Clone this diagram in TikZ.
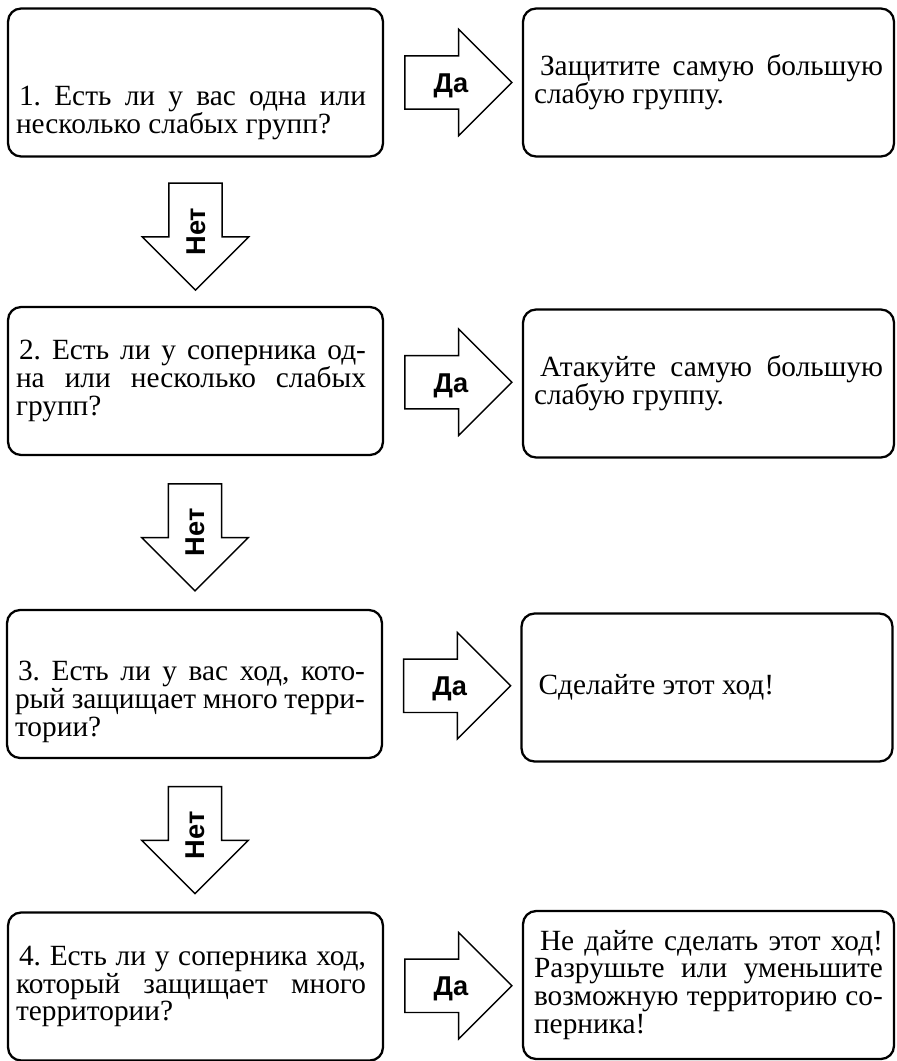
\documentclass[tikz,border=0pt]{standalone}
\usepackage{fontspec}
\setmainfont{Liberation Serif}
\newfontfamily\arrowfont{Liberation Sans}
\usetikzlibrary{shapes.arrows}
\usetikzlibrary{calc}
\frenchspacing

\begin{document}
\begin{tikzpicture}[x=0.02cm, y=-0.02cm,
				box/.style = {draw, line width=1.3pt, rounded corners=0.26cm,
					minimum width=7.5cm, minimum height=2.96cm,
					text width=7.18cm, align=justify, inner sep=0pt,
					execute at begin node={\rightskip=0.18cm},
					font=\fontsize{16.7}{15.9}\selectfont},
				answer/.style = {box, minimum width=7.42cm, text width=6.98cm,
					execute at begin node={\rightskip=0cm}},
				bigarrow/.style = {draw, line width=0.8pt, single arrow,
					single arrow head extend=0.53cm, minimum width=2.1cm,
					minimum height=2.14cm, inner sep=0pt,
					text height=0.715cm, text depth=0.325cm,
					font=\arrowfont\bfseries\fontsize{15.5}{16}\selectfont},
				yes/.style = {bigarrow, xshift=-0.16cm},
				no/.style = {bigarrow, yshift=0.17cm, rotate=90, shape border rotate=180}]
				
				\useasboundingbox (0,0) rectangle (896,1061);
				
				% Question 1
				\node[box] (q1) at (195.5,82.5) {\rule{0pt}{1.6cm}\hspace*{0.06cm}1. Есть ли у вас одна или\linebreak несколько слабых групп?};
				\node[answer] (a1) at (708.5,82.5) {\hspace*{0.12cm}Защитите самую большую\linebreak слабую группу.};
				
				% Question 2
				\node[box] (q2) at (195.5,381) {\hspace*{0.06cm}2. Есть ли у соперника од-\linebreak на или несколько слабых\linebreak групп?};
				\node[answer] (a2) at (708.5,383.5) {\hspace*{0.12cm}Атакуйте самую большую\linebreak слабую группу.};
				
				% Question 3
				\node[box] (q3) at (194.5,684) {\rule{0pt}{1.1cm}\hspace*{0.06cm}3. Есть ли у вас ход, кото-\linebreak рый защищает много терри-\linebreak тории?};
				\node[answer] (a3) at (707,687.5) {\hspace*{0.12cm}Сделайте этот ход!};
				
				% Question 4
				\node[box] (q4) at (195.5,986.5) {\hspace*{0.06cm}4. Есть ли у соперника ход,\linebreak который защищает много\linebreak территории?};
				\node[answer] (a4) at (708.5,985) {\hspace*{0.12cm}Не дайте сделать этот ход!\linebreak Разрушьте или уменьшите\linebreak возможную территорию со-\linebreak перника!};
				
				% Yes arrows
				\node[yes] (y1) at ($(q1.east)!0.5!(a1.west)$) {Да\hspace*{-0.24cm}};
				\node[yes] (y2) at ($(q2.east)!0.5!(a2.west)$) {Да\hspace*{-0.24cm}};
				\node[yes] (y3) at ($(q3.east)!0.5!(a3.west)$) {Да\hspace*{-0.24cm}};
				\node[yes] (y4) at ($(q4.east)!0.5!(a4.west)$) {Да\hspace*{-0.24cm}};
				
				% No arrows
				\node[no] (n1) at ($(q1.south)!0.5!(q2.north)$) {\hspace*{-0.34cm}Нет};
				\node[no] (n2) at ($(q2.south)!0.5!(q3.north)$) {\hspace*{-0.34cm}Нет};
				\node[no] (n3) at ($(q3.south)!0.5!(q4.north)$) {\hspace*{-0.34cm}Нет};
				
			\end{tikzpicture}
\end{document}
